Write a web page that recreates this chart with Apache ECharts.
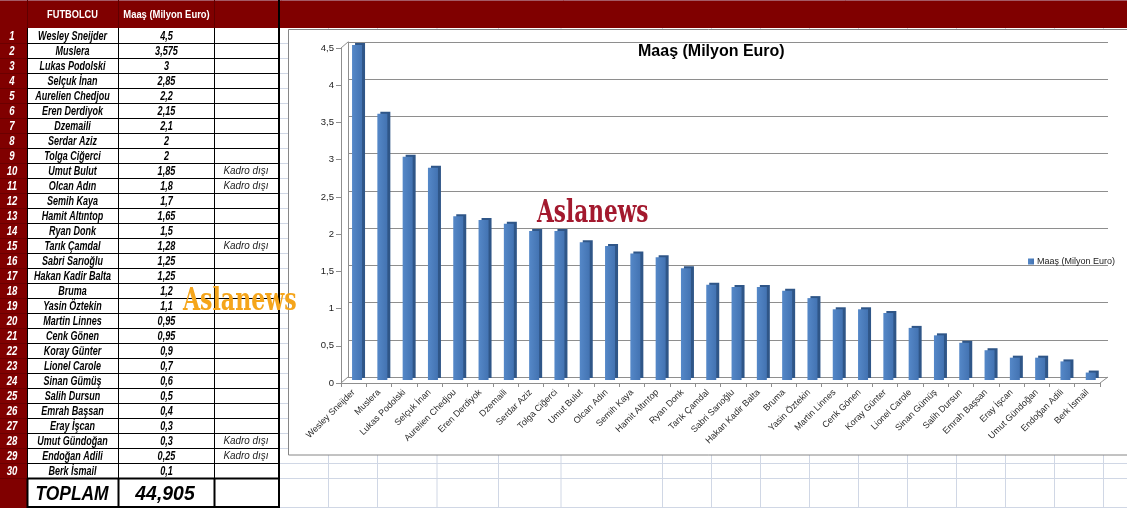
<!DOCTYPE html>
<html>
<head>
<meta charset="utf-8">
<script src="https://cdn.jsdelivr.net/npm/echarts@6/dist/echarts.min.js"></script>
<style>
html,body{margin:0;padding:0;background:#fff;}
#c{width:1127px;height:508px;}
</style>
</head>
<body>
<div id="c"></div>
<script>
// ---------- DATA ----------
const players = ['Wesley Sneijder','Muslera','Lukas Podolski','Selçuk İnan','Aurelien Chedjou','Eren Derdiyok','Dzemaili','Serdar Aziz','Tolga Ciğerci','Umut Bulut','Olcan Adın','Semih Kaya','Hamit Altıntop','Ryan Donk','Tarık Çamdal','Sabri Sarıoğlu','Hakan Kadir Balta','Bruma','Yasin Öztekin','Martin Linnes','Cenk Gönen','Koray Günter','Lionel Carole','Sinan Gümüş','Salih Dursun','Emrah Başsan','Eray İşcan','Umut Gündoğan','Endoğan Adili','Berk İsmail'];
const salaries = [4.5,3.575,3,2.85,2.2,2.15,2.1,2,2,1.85,1.8,1.7,1.65,1.5,1.28,1.25,1.25,1.2,1.1,0.95,0.95,0.9,0.7,0.6,0.5,0.4,0.3,0.3,0.25,0.1];
const notes = ['','','','','','','','','','Kadro dışı','Kadro dışı','','','','Kadro dışı','','','','','','','','','','','','','Kadro dışı','Kadro dışı',''];
const headers = ['FUTBOLCU','Maaş (Milyon Euro)'];
const seriesName = 'Maaş (Milyon Euro)';
const totalLabel = 'TOPLAM';
const yTickLabels = ['0','0,5','1','1,5','2','2,5','3','3,5','4','4,5'];
const watermark = 'Aslanews';

// ---------- HELPERS ----------
const fmt = v => String(v).replace('.', ',');
const total = Math.round(salaries.reduce((a,b)=>a+b,0)*1000)/1000;
const SANS = '"Liberation Sans", Arial, sans-serif';

const chart = echarts.init(document.getElementById('c'), null, {renderer:'canvas'});
const G = [];

function txt(text, x, y, font, fill, sx, z) {
  return {type:'text', z: z===undefined?-5:z, x:x, y:y, scaleX:sx, scaleY:1,
    style:{text:text, x:0, y:0, align:'center', verticalAlign:'middle', fill:fill, font:font}};
}

// Excel sheet grid (background)
const colLines = [328.5,377.5,437,498.5,561,662.5,711.5,760.5,809.5,858.5,907.5,956.5,1005.5,1054.5,1103.5];
const rowTop = 28.5, rowH = 15;
for (let k = 1; k <= 30; k++) {
  const y = rowTop + rowH*k;
  G.push({type:'line', z:-20, shape:{x1:279,y1:y,x2:1127,y2:y}, style:{stroke:'#D0D7E5',lineWidth:1}});
}
G.push({type:'line', z:-20, shape:{x1:279,y1:507.5,x2:1127,y2:507.5}, style:{stroke:'#D0D7E5',lineWidth:1}});
colLines.forEach(x => G.push({type:'line', z:-20, shape:{x1:x,y1:28,x2:x,y2:508}, style:{stroke:'#D0D7E5',lineWidth:1}}));

// Header band
G.push({type:'rect', z:-15, shape:{x:0,y:0,width:1127,height:28}, style:{fill:'#800000'}});
G.push({type:'line', z:-14, shape:{x1:0,y1:0.5,x2:1127,y2:0.5}, style:{stroke:'#A45A66',lineWidth:1}});
// Row-number column
G.push({type:'rect', z:-15, shape:{x:0,y:28,width:27,height:480}, style:{fill:'#800000'}});
// Table body
G.push({type:'rect', z:-15, shape:{x:27,y:28,width:252,height:480}, style:{fill:'#ffffff'}});

// Chart frame
G.push({type:'rect', z:-14, shape:{x:288.5,y:29.5,width:900,height:425.5}, style:{fill:'#ffffff',stroke:'#868686',lineWidth:1}});

// Table lines
for (let i = 1; i <= 30; i++) {
  const y = rowTop + rowH*i;
  G.push({type:'line', z:-10, shape:{x1:27,y1:y,x2:279,y2:y}, style:{stroke:'#000',lineWidth: i===30?2:1}});
  G.push({type:'line', z:-10, shape:{x1:0,y1:y,x2:27,y2:y}, style:{stroke:'#6a0000',lineWidth:1}});
}
G.push({type:'line', z:-10, shape:{x1:27,y1:507,x2:279,y2:507}, style:{stroke:'#000',lineWidth:2}});
[27.5,118.5,214.5].forEach((x) => {
  G.push({type:'line', z:-10, shape:{x1:x,y1:28,x2:x,y2:478.5}, style:{stroke:'#000',lineWidth:1}});
  G.push({type:'line', z:-10, shape:{x1:x,y1:478.5,x2:x,y2:508}, style:{stroke:'#000',lineWidth:2}});
  G.push({type:'line', z:-10, shape:{x1:x,y1:0,x2:x,y2:28}, style:{stroke:'#600000',lineWidth:1}});
});
G.push({type:'line', z:-10, shape:{x1:279,y1:0,x2:279,y2:508}, style:{stroke:'#000',lineWidth:2}});

// Header texts
G.push(txt(headers[0], 72.5, 14.5, 'bold 11px '+SANS, '#fff', 0.84));
G.push(txt(headers[1], 166.5, 14.5, 'bold 11.5px '+SANS, '#fff', 0.82));

// Table rows
players.forEach((p, i) => {
  const yc = rowTop + rowH*i + 7.8;
  G.push(txt(String(i+1), 12, yc, 'italic bold 12px '+SANS, '#fff', 0.8));
  G.push(txt(p, 72.5, yc, 'italic bold 12px '+SANS, '#000', 0.75));
  G.push(txt(fmt(salaries[i]), 166.5, yc, 'italic bold 12px '+SANS, '#000', 0.76));
  if (notes[i]) G.push(txt(notes[i], 246, yc, 'italic 11px '+SANS, '#222', 0.9));
});
G.push(txt(totalLabel, 72, 494, 'italic bold 20px '+SANS, '#000', 0.87));
G.push(txt(fmt(total), 165, 494, 'italic bold 20px '+SANS, '#000', 0.97));

// 3D edges of the chart walls/floor
const edge = {stroke:'#8E8E8E', lineWidth:1};
G.push({type:'line', z:-1, shape:{x1:341,y1:48,x2:348,y2:42}, style:edge});
G.push({type:'line', z:-1, shape:{x1:341,y1:383,x2:348,y2:377}, style:edge});
G.push({type:'line', z:-1, shape:{x1:1100,y1:383,x2:1108,y2:377}, style:edge});

// Watermarks
G.push({type:'text', z:100, x:537, y:198, scaleX:0.775, scaleY:1, style:{text:watermark, fill:'#A3192E', font:'bold 31px "DejaVu Serif Condensed", "DejaVu Serif", serif'}});
G.push({type:'text', z:100, x:183, y:286, scaleX:0.79, scaleY:1, style:{text:watermark, fill:'#F5A51B', font:'bold 31px "DejaVu Serif Condensed", "DejaVu Serif", serif'}});

const axisGray = '#8E8E8E';
const option = {
  animation: false,
  backgroundColor: '#ffffff',
  title: {
    text: seriesName, left: 633, top: 39,
    textStyle: {fontFamily: SANS, fontWeight: 'bold', fontSize: 16, color: '#000'}
  },
  legend: {
    data: [seriesName], right: 7, top: 252, orient: 'vertical',
    itemWidth: 6, itemHeight: 6, icon: 'rect', itemGap: 4,
    textStyle: {fontFamily: SANS, fontSize: 9, color: '#222', padding:[0,0,0,-2]}
  },
  grid: [
    {left: 348, right: 19, top: 42, bottom: 131},
    {left: 341, right: 27, top: 48, bottom: 125},
    {left: 344.4, right: 23.6, top: 45, bottom: 128}
  ],
  xAxis: [
    {type:'category', gridIndex:0, data:players, axisLine:{show:false}, axisTick:{show:false}, axisLabel:{show:false}},
    {type:'category', gridIndex:1, data:players,
      axisLine:{show:true, lineStyle:{color:axisGray}},
      axisTick:{show:true, interval:0, length:4, lineStyle:{color:axisGray}},
      axisLabel:{show:true, interval:0, rotate:45, margin:8, fontSize:9, fontFamily:SANS, color:'#2a2a2a'}},
    {type:'category', gridIndex:2, data:players, show:false}
  ],
  yAxis: [
    {type:'value', gridIndex:0, min:0, max:4.5, interval:0.5,
      axisLine:{show:true, lineStyle:{color:axisGray}}, axisTick:{show:false}, axisLabel:{show:false},
      splitLine:{show:true, lineStyle:{color:'#8E8E8E', width:1}}},
    {type:'value', gridIndex:1, min:0, max:4.5, interval:0.5,
      axisLine:{show:true, lineStyle:{color:axisGray}},
      axisTick:{show:true, length:5, lineStyle:{color:axisGray}},
      axisLabel:{show:true, margin:7, fontSize:9.5, fontFamily:SANS, color:'#222',
        formatter: (v) => yTickLabels[Math.round(v/0.5)]},
      splitLine:{show:false}},
    {type:'value', gridIndex:2, min:0, max:4.5, interval:0.5, show:false, splitLine:{show:false}}
  ],
  series: [{
    name: seriesName, type: 'bar', xAxisIndex: 2, yAxisIndex: 2,
    data: salaries, barWidth: 10,
    itemStyle: {
      color: new echarts.graphic.LinearGradient(0,0,1,0,[{offset:0,color:'#5588C8'},{offset:1,color:'#4373B2'}]),
      shadowColor: '#2F5688', shadowBlur: 0, shadowOffsetX: 3, shadowOffsetY: -2
    }
  }],
  color: ['#4F81BD'],
  graphic: G
};
chart.setOption(option);
</script>
</body>
</html>
